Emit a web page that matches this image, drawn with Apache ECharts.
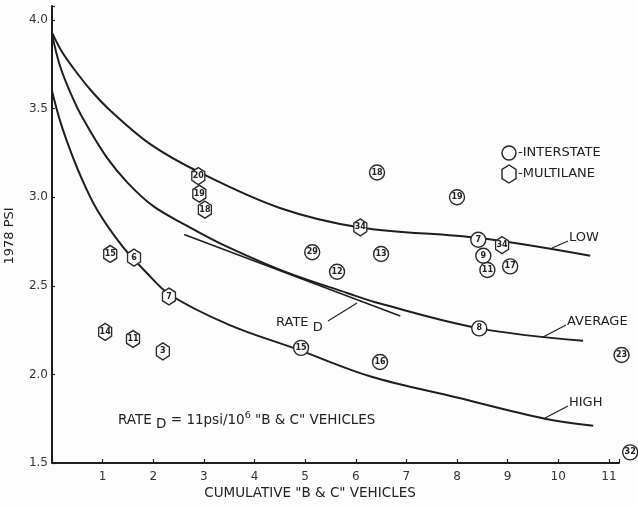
<!DOCTYPE html>
<html>
<head>
<meta charset="utf-8">
<script src="https://cdn.jsdelivr.net/npm/echarts@6/dist/echarts.min.js"></script>
<style>
html,body{margin:0;padding:0;background:#fdfdfd;}
#chart{width:638px;height:506px;}
</style>
</head>
<body>
<div id="chart"></div>
<script>
// ---- Data ----
const lowCurveX = [0, 0.2, 0.42, 0.75, 1.15, 1.94, 2.92, 4.5, 6.09, 8.44, 10.63];
const lowCurveY = [3.93, 3.82, 3.73, 3.61, 3.49, 3.30, 3.14, 2.94, 2.83, 2.77, 2.67];

const avgCurveX = [0, 0.16, 0.38, 0.62, 1.07, 1.5, 2.0, 2.66, 3.32, 4.6, 5.83, 6.48, 8.44, 10.49];
const avgCurveY = [3.92, 3.74, 3.58, 3.44, 3.23, 3.08, 2.95, 2.84, 2.74, 2.58, 2.46, 2.40, 2.26, 2.19];

const highCurveX = [0, 0.14, 0.29, 0.55, 0.89, 1.4, 1.85, 2.33, 3.5, 4.86, 6.28, 8.0, 9.74, 10.69];
const highCurveY = [3.60, 3.45, 3.32, 3.13, 2.93, 2.72, 2.58, 2.45, 2.28, 2.14, 1.99, 1.87, 1.75, 1.71];

const rateDX = [2.61, 6.88];
const rateDY = [2.79, 2.33];

const interstateX = [6.42, 5.14, 5.63, 6.50, 4.92, 6.48, 8.00, 8.42, 8.52, 8.60, 9.05, 8.44, 11.25, 11.42];
const interstateY = [3.14, 2.69, 2.58, 2.68, 2.15, 2.07, 3.00, 2.76, 2.67, 2.59, 2.61, 2.26, 2.11, 1.56];
const interstateLabels = ['18', '29', '12', '13', '15', '16', '19', '7', '9', '11', '17', '8', '23', '32'];

const multilaneX = [2.89, 2.91, 3.02, 1.15, 1.62, 2.31, 1.05, 1.60, 2.19, 6.09, 8.89];
const multilaneY = [3.12, 3.02, 2.93, 2.68, 2.66, 2.44, 2.24, 2.20, 2.13, 2.83, 2.73];
const multilaneLabels = ['20', '19', '18', '15', '6', '7', '14', '11', '3', '34', '34'];

const yTicks = [1.5, 2.0, 2.5, 3.0, 3.5, 4.0];
const xTicks = [1, 2, 3, 4, 5, 6, 7, 8, 9, 10, 11];

// ---- Build ----
const zip = (xs, ys) => xs.map((x, i) => [x, ys[i]]);
const zipL = (xs, ys, ls) => xs.map((x, i) => [x, ys[i], ls[i]]);
const HEX = 'path://M0,-10 L8.66,-5 L8.66,5 L0,10 L-8.66,5 L-8.66,-5 Z';
const INK = '#1e1e1e';
const FONT = 'DejaVu Sans';

const curveStyle = {
  type: 'line', smooth: 0.35, showSymbol: false, symbol: 'none', silent: true,
  lineStyle: { color: INK, width: 2 }, z: 2
};
const pointLabel = {
  show: true, position: 'inside', formatter: p => p.data[2],
  fontSize: 8, fontFamily: FONT, color: '#222', fontWeight: 'bold'
};
const T = (size) => size + 'px ' + FONT;

const chart = echarts.init(document.getElementById('chart'), null, { renderer: 'canvas' });
chart.setOption({
  backgroundColor: '#fdfdfd',
  animation: false,
  grid: { left: 52, right: 19, top: 6, bottom: 43, containLabel: false },
  xAxis: {
    type: 'value', min: 0, max: 11.2, interval: 1,
    axisLine: { lineStyle: { color: INK, width: 2 } },
    axisTick: { show: true, inside: true, length: 4, lineStyle: { color: INK, width: 1.2 } },
    splitLine: { show: false },
    axisLabel: {
      color: '#333', fontSize: 12, fontFamily: FONT, margin: 8,
      formatter: v => (xTicks.indexOf(v) >= 0 ? String(v) : '')
    }
  },
  yAxis: {
    type: 'value', min: 1.5, max: 4.08, interval: 0.5,
    axisLine: { show: true, lineStyle: { color: INK, width: 2 } },
    axisTick: { show: true, inside: true, length: 3, lineStyle: { color: INK, width: 1.2 } },
    splitLine: { show: false },
    axisLabel: {
      color: '#333', fontSize: 12, fontFamily: FONT, margin: 4,
      formatter: v => (yTicks.some(t => Math.abs(t - v) < 1e-6) ? v.toFixed(1) : '')
    }
  },
  series: [
    Object.assign({ name: 'LOW', data: zip(lowCurveX, lowCurveY) }, curveStyle),
    Object.assign({ name: 'AVERAGE', data: zip(avgCurveX, avgCurveY) }, curveStyle),
    Object.assign({ name: 'HIGH', data: zip(highCurveX, highCurveY) }, curveStyle),
    {
      name: 'RATE D', type: 'line', data: zip(rateDX, rateDY), showSymbol: false, symbol: 'none',
      lineStyle: { color: INK, width: 1.5 }, z: 2
    },
    {
      name: 'INTERSTATE', type: 'scatter', clip: false, symbol: 'circle', symbolSize: 15,
      data: zipL(interstateX, interstateY, interstateLabels),
      itemStyle: { color: '#fdfdfd', borderColor: '#2a2a2a', borderWidth: 1.4, opacity: 1 },
      label: pointLabel, z: 5
    },
    {
      name: 'MULTILANE', type: 'scatter', clip: false, symbol: HEX, symbolKeepAspect: true, symbolSize: [15, 17],
      data: zipL(multilaneX, multilaneY, multilaneLabels),
      itemStyle: { color: '#fdfdfd', borderColor: '#2a2a2a', borderWidth: 1.4, opacity: 1 },
      label: pointLabel, z: 5
    }
  ],
  graphic: [
    // axis titles
    { type: 'text', x: 10, y: 236, rotation: Math.PI / 2, style: { text: '1978 PSI', font: T(13), fill: '#222', align: 'center', verticalAlign: 'middle' } },
    { type: 'text', x: 310, y: 493, style: { text: 'CUMULATIVE "B & C" VEHICLES', font: T(13.5), fill: '#222', align: 'center', verticalAlign: 'middle' } },
    // legend
    { type: 'circle', shape: { cx: 509, cy: 153, r: 7 }, style: { fill: 'none', stroke: '#222', lineWidth: 1.4 } },
    { type: 'text', x: 518, y: 153, style: { text: '-INTERSTATE', font: T(13), fill: '#222', verticalAlign: 'middle' } },
    { type: 'polygon', shape: { points: [[509, 165], [516, 169.5], [516, 178.5], [509, 183], [502, 178.5], [502, 169.5]] }, style: { fill: 'none', stroke: '#222', lineWidth: 1.4 } },
    { type: 'text', x: 518, y: 174, style: { text: '-MULTILANE', font: T(13), fill: '#222', verticalAlign: 'middle' } },
    // curve labels with leaders
    { type: 'polyline', shape: { points: [[552, 248], [568, 241]] }, style: { stroke: INK, lineWidth: 1.2, fill: null } },
    { type: 'text', x: 569, y: 238, style: { text: 'LOW', font: T(13), fill: '#222', verticalAlign: 'middle' } },
    { type: 'polyline', shape: { points: [[543, 337], [566, 325]] }, style: { stroke: INK, lineWidth: 1.2, fill: null } },
    { type: 'text', x: 567, y: 322, style: { text: 'AVERAGE', font: T(13), fill: '#222', verticalAlign: 'middle' } },
    { type: 'polyline', shape: { points: [[545, 418], [568, 406]] }, style: { stroke: INK, lineWidth: 1.2, fill: null } },
    { type: 'text', x: 569, y: 403, style: { text: 'HIGH', font: T(13), fill: '#222', verticalAlign: 'middle' } },
    // RATE D label + arrow
    { type: 'polyline', shape: { points: [[328, 321], [357, 303]] }, style: { stroke: INK, lineWidth: 1.1, fill: null } },
    { type: 'text', x: 276, y: 323, style: { text: '{a|RATE }{b|D}', fill: '#222', verticalAlign: 'middle',
      rich: { a: { font: T(13), fill: '#222' }, b: { font: T(13), fill: '#222', padding: [9, 0, 0, 0] } } } },
    // formula
    { type: 'text', x: 118, y: 420, style: { text: '{a|RATE }{b|D}{a| = 11psi/10}{c|6}{a| "B & C" VEHICLES}', fill: '#222', verticalAlign: 'middle',
      rich: { a: { font: T(13.5), fill: '#222' }, b: { font: T(13.5), fill: '#222', padding: [9, 0, 0, 0] }, c: { font: T(9.5), fill: '#222', padding: [0, 0, 8, 0] } } } }
  ]
});
</script>
</body>
</html>
